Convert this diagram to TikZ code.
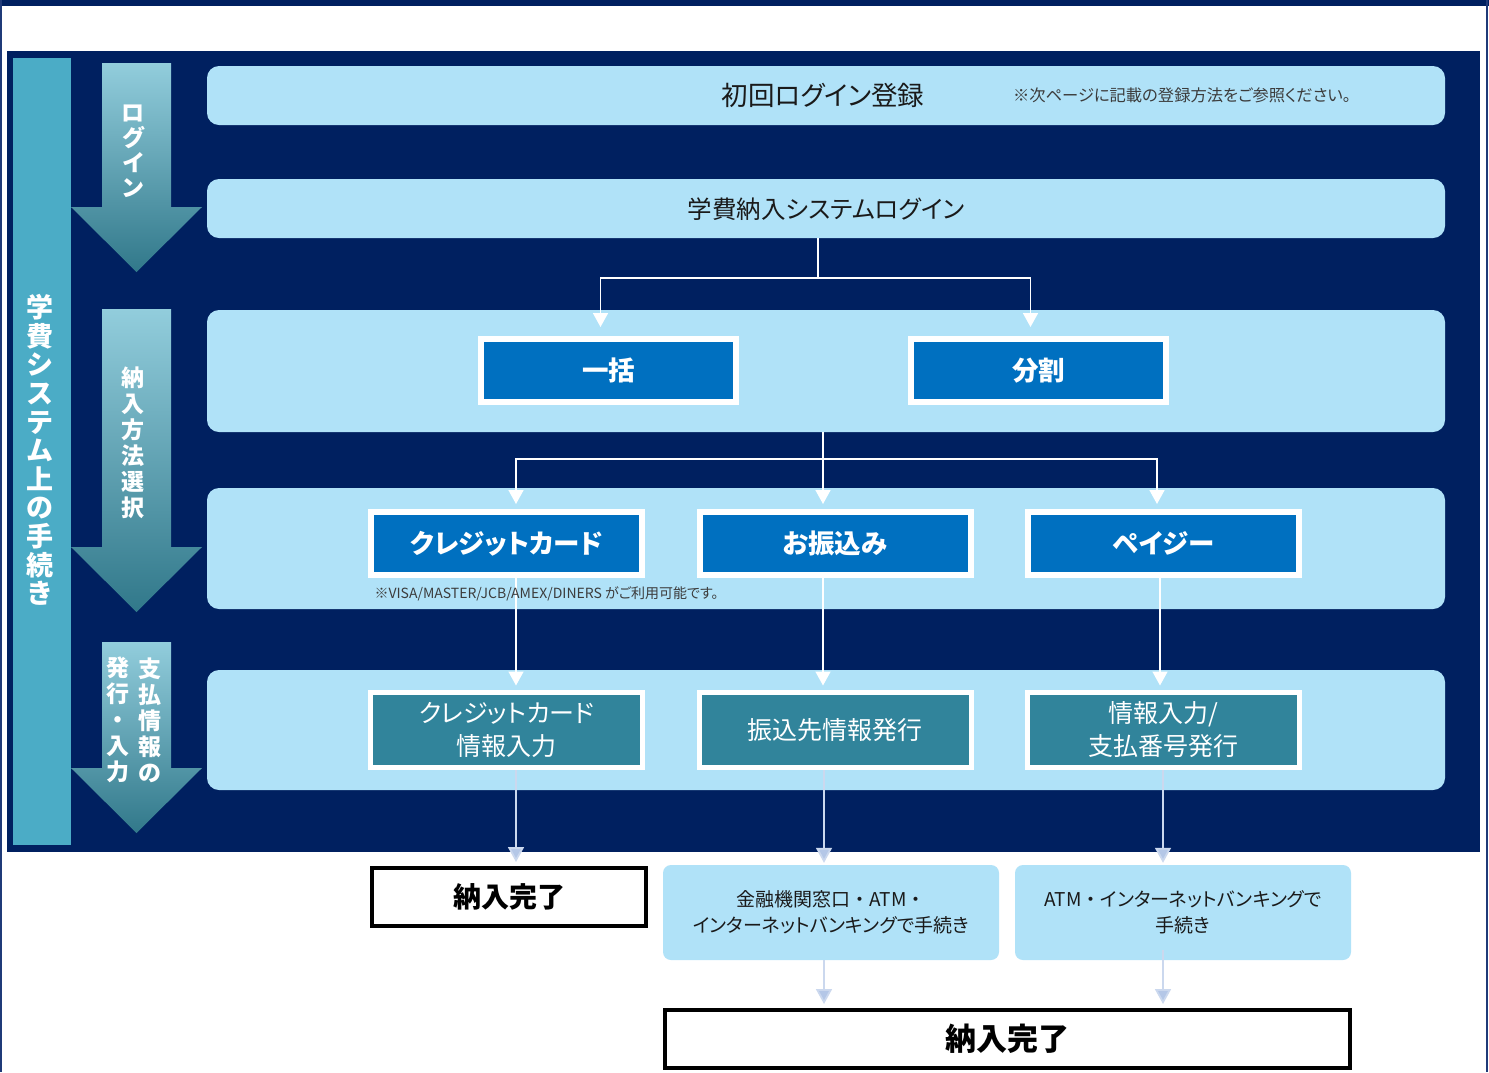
\documentclass[tikz,border=0pt]{standalone}
\usepackage{fontspec}
\setmainfont{Noto Sans CJK JP}[RawFeature=+palt]
\newfontfamily\jpfull{Noto Sans CJK JP}
\usetikzlibrary{arrows.meta,calc}
\definecolor{navy}{HTML}{002060}
\definecolor{lightb}{HTML}{B0E2F8}
\definecolor{tealbar}{HTML}{4BACC6}
\definecolor{boxblue}{HTML}{0070C0}
\definecolor{boxteal}{HTML}{31849B}
\definecolor{arrowlb}{HTML}{B4C7E7}
\definecolor{framec}{HTML}{1F3A78}
\definecolor{agtop}{HTML}{92CDDC}
\definecolor{agmid}{HTML}{4BACC6}
\definecolor{agbot}{HTML}{31788A}
\definecolor{txt}{HTML}{1A1A1A}
\tikzset{
  rowband/.style={fill=lightb, rounded corners=12pt, minimum width=1238pt, inner sep=0pt},
  bluebox/.style={fill=boxblue, draw=white, line width=6pt, minimum width=271pt, minimum height=63pt, inner sep=0pt, text=white, font=\bfseries\fontsize{26.5}{30}\selectfont},
  tealbox/.style={fill=boxteal, draw=white, line width=5pt, minimum width=272pt, minimum height=75pt, inner sep=0pt, text=white, align=center, font=\fontsize{25}{33}\selectfont},
  donebox/.style={fill=white, draw=black, line width=4pt, inner sep=0pt, font=\bfseries\fontsize{28}{30}\selectfont, text=black},
  infobox/.style={fill=lightb, rounded corners=8pt, minimum width=336pt, minimum height=95pt, inner sep=0pt, align=center, text=txt, font=\fontsize{19}{26}\selectfont},
  vlab/.style={text=white, align=center, inner sep=0pt},
  wline/.style={draw=white, line width=1.6pt},
  wtip/.style={-{Triangle[width=15pt,length=14pt]}},
  bline/.style={draw=arrowlb!70!white, line width=1.8pt},
  btip/.style={-{Triangle[width=16pt,length=15pt,fill=arrowlb]}},
}
\begin{document}
\begin{tikzpicture}[x=1pt,y=-1pt]
\useasboundingbox (0,0) rectangle (1489,1072);
\fill[white] (0,0) rectangle (1489,1072);
% outer frame
\fill[navy] (0,0) rectangle (1489,6);
\draw[framec, line width=2pt] (1,0) -- (1,1072);
\draw[framec, line width=2pt] (1487,0) -- (1487,1072);
% navy panel
\fill[navy] (7,51) rectangle (1480,852);
% teal bar
\fill[tealbar] (13,58) rectangle (71,845);
\node[vlab, font=\bfseries\fontsize{27}{28.6}\selectfont] (mainlab) at (40,450) {学\\費\\シ\\ス\\テ\\ム\\上\\の\\手\\続\\き};
% step arrows
\shade[top color=agtop, middle color=agmid, bottom color=agbot] (102,63) -- (171,63) -- (171,207) -- (202,207) -- (136.5,272) -- (71,207) -- (102,207) -- cycle;
\shade[top color=agtop, middle color=agmid, bottom color=agbot] (102,309) -- (171,309) -- (171,547) -- (202,547) -- (136.5,612) -- (71,547) -- (102,547) -- cycle;
\shade[top color=agtop, middle color=agmid, bottom color=agbot] (102,642) -- (171,642) -- (171,768) -- (202,768) -- (136.5,833) -- (71,768) -- (102,768) -- cycle;
\node[vlab, font=\bfseries\fontsize{23}{25}\selectfont] (lab1) at (133,151) {ロ\\グ\\イ\\ン};
\node[vlab, font=\bfseries\fontsize{23}{26}\selectfont] (lab2) at (133,443) {納\\入\\方\\法\\選\\択};
\node[vlab, font=\bfseries\fontsize{23}{26}\selectfont] (lab3a) at (150,720) {支\\払\\情\\報\\の};
\node[vlab, font=\bfseries\fontsize{23}{26}\selectfont] (lab3b) at (118,720) {発\\行\\・\\入\\力};
% row bands
\node[rowband, minimum height=59pt] (row1) at (826,95.5) {};
\node[rowband, minimum height=59pt] (row2) at (826,208.5) {};
\node[rowband, minimum height=122pt] (row3) at (826,371) {};
\node[rowband, minimum height=121pt] (row4) at (826,548.5) {};
\node[rowband, minimum height=120pt] (row5) at (826,730) {};
\node[text=txt, font=\fontsize{26.5}{28}\selectfont] (t1) at (823,95) {初回ログイン登録};
\node[text=txt!85!white, font=\fontsize{16.3}{18}\selectfont] (t1n) at (1182,95) {※次ページに記載の登録方法をご参照ください。};
\node[text=txt, font=\fontsize{24.5}{28}\selectfont] (t2) at (826,209) {学費納入システムログイン};
% boxes row 3
\node[bluebox, minimum width=255pt] (ikkatsu) at (608.5,370.5) {一括};
\node[bluebox, minimum width=255pt] (bunkatsu) at (1038.5,370.5) {分割};
% boxes row 4
\node[bluebox] (credit) at (506.5,543.5) {クレジットカード};
\node[bluebox] (furikomi) at (835,543.5) {お振込み};
\node[bluebox] (payeasy) at (1163.5,543.5) {ペイジー};
% boxes row 5
\node[tealbox] (cinfo) at (506.5,730) {クレジットカード\\情報入力};
\node[tealbox] (finfo) at (835,730) {振込先情報発行};
\node[tealbox] (pinfo) at (1163.5,730) {情報入力/\\支払番号発行};
% bottom
\node[donebox, minimum width=274pt, minimum height=58pt] (done1) at (509,897) {納入完了};
\node[infobox] (bank) at (831,912.5) {金融機関窓口{\jpfull ・}ATM{\jpfull ・}\\インターネットバンキングで手続き};
\node[infobox] (atm) at (1183,912.5) {ATM{\jpfull ・}インターネットバンキングで\\手続き};
\node[donebox, minimum width=685pt, minimum height=58pt, font=\bfseries\fontsize{31}{33}\selectfont] (done2) at (1007.5,1039) {納入完了};
% connectors row2 -> row3
\draw[wline] ([xshift=-8pt]row2.south) -- ++(0,40) coordinate (j1);
\draw[wline, wtip, shorten >=9pt] (j1) -| ([xshift=-8pt]ikkatsu.north);
\draw[wline, wtip, shorten >=9pt] (j1) -| ([xshift=-8pt]bunkatsu.north);
% row3 -> row4
\draw[wline] ([xshift=-3pt]row3.south) -- ++(0,27) coordinate (j2);
\draw[wline, wtip, shorten >=5pt] (j2) -| ([xshift=9.5pt]credit.north);
\draw[wline, wtip, shorten >=5pt] (j2) -- ([xshift=-12pt]furikomi.north);
\draw[wline, wtip, shorten >=5pt] (j2) -| ([xshift=-6.5pt]payeasy.north);
% row4 -> row5
\draw[wline, wtip, shorten >=4.5pt] ([xshift=9.5pt]credit.south) -- ([xshift=9.5pt]cinfo.north);
\draw[wline, wtip, shorten >=4.5pt] ([xshift=-12pt]furikomi.south) -- ([xshift=-12pt]finfo.north);
\draw[wline, wtip, shorten >=4.5pt] ([xshift=-3.5pt]payeasy.south) -- ([xshift=-3.5pt]pinfo.north);
% row5 -> bottom
\coordinate (a1) at ([xshift=9.5pt]cinfo.south);
\coordinate (a2) at ([xshift=-11pt]finfo.south);
\coordinate (a3) at ([xshift=-0.5pt]pinfo.south);
\draw[bline, btip, shorten >=4pt] (a1) -- (a1 |- done1.north);
\draw[bline, btip, shorten >=2pt] (a2) -- (a2 |- bank.north);
\draw[bline, btip, shorten >=2pt] (a3) -- (a3 |- atm.north);
\coordinate (b1) at (a2 |- bank.south);
\coordinate (b2) at ([yshift=10pt]a3 |- atm.south);
\draw[bline, btip, shorten >=4pt] (b1) -- (b1 |- done2.north);
\draw[bline, btip, shorten >=4pt] (b2) -- (b2 |- done2.north);
% note under credit
\node[text=txt!85!white, font=\fontsize{14}{16}\selectfont, anchor=west] (note2) at (371,594) {※VISA/MASTER/JCB/AMEX/DINERS がご利用可能です。};
\end{tikzpicture}
\end{document}
